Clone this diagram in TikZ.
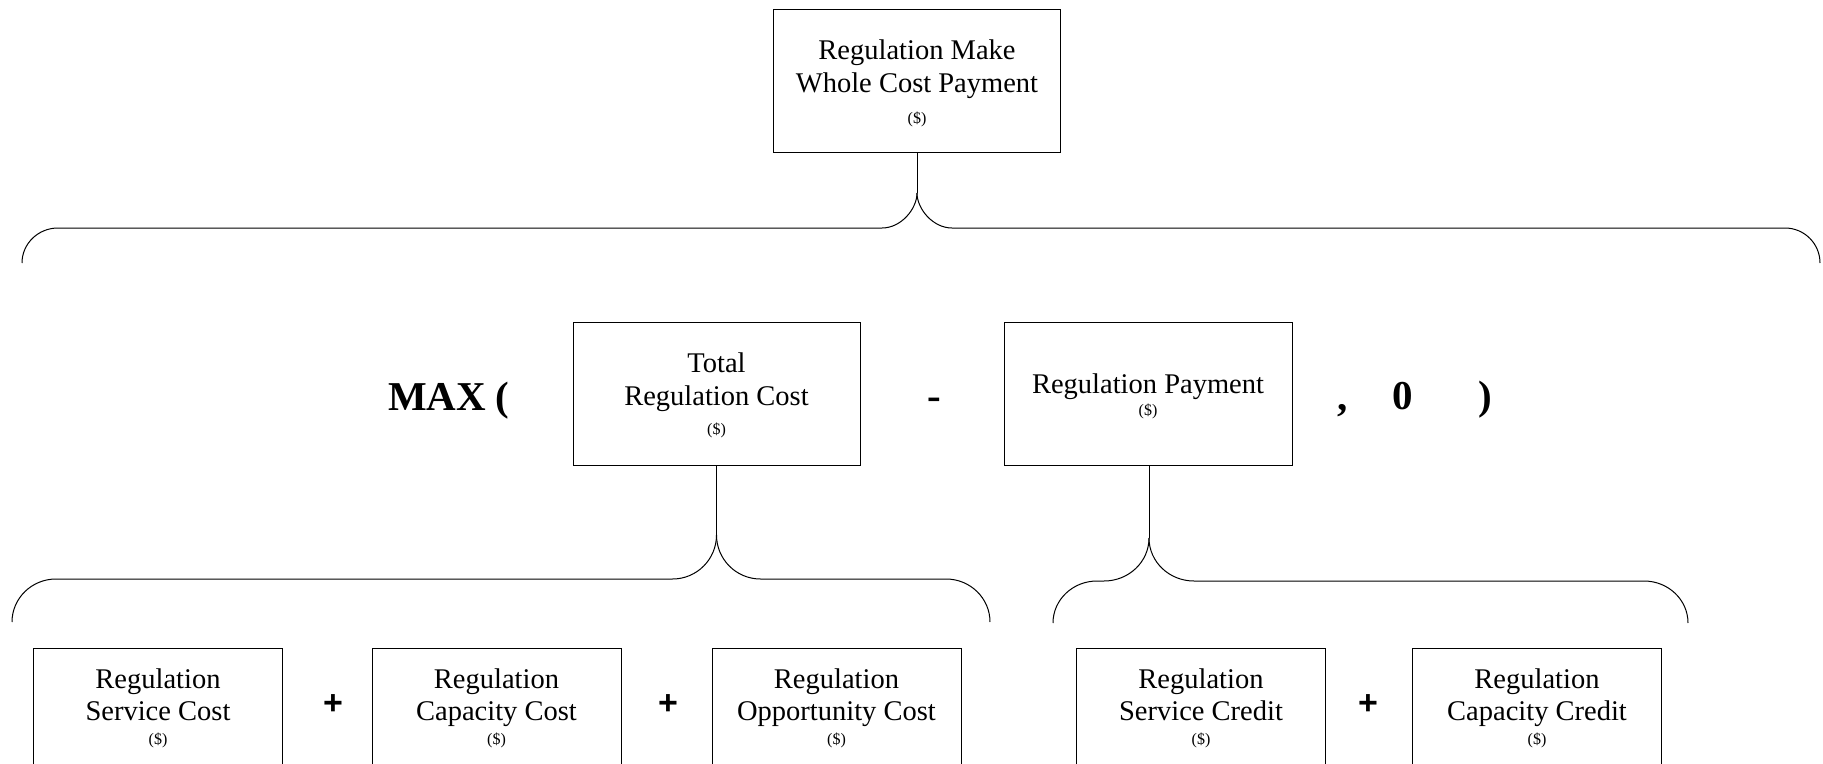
\documentclass[tikz,border=0pt]{standalone}
\usepackage{fontspec}
\setmainfont{Liberation Serif}
\newfontfamily\plusfont{Liberation Sans}
\newcommand{\mainfs}{\fontsize{28.5}{32}\selectfont}
\newcommand{\unitfs}{\fontsize{16}{18}\selectfont}
\newcommand{\opfs}{\fontsize{41}{46}\selectfont\bfseries}
\newcommand{\plusfs}{\fontsize{34}{40}\selectfont\plusfont\bfseries}
\tikzset{
  box/.style={draw, line width=1pt, minimum width=#1, minimum height=143pt, inner sep=0pt},
  txt/.style={inner sep=0pt, anchor=base, font=\mainfs},
  unit/.style={inner sep=0pt, anchor=base, font=\unitfs},
  op/.style={inner sep=0pt, font=\opfs},
  plussign/.style={inner sep=0pt, anchor=center, font=\plusfs},
  ln/.style={line width=1pt, black},
}
\begin{document}
\begin{tikzpicture}[x=1pt, y=-1pt]
\useasboundingbox (0,0) rectangle (1823,763);
\clip (0,0) rectangle (1823,763);
\fill[white] (0,0) rectangle (1823,763);

% top box
\node[box=287pt] (top) at (917,80.5) {};
\node[txt] (topA) at (917,59) {Regulation Make};
\node[txt] (topB) at (917,92) {Whole Cost Payment};
\node[unit] (topU) at (917,123) {(\$)};

% middle boxes
\node[box=287pt] (total) at (716.5,393.5) {};
\node[txt] (totA) at (716.5,372) {Total};
\node[txt] (totB) at (716.5,405) {Regulation Cost};
\node[unit] (totU) at (716.5,434) {(\$)};

\node[box=288pt] (pay) at (1148,393.5) {};
\node[txt] (payA) at (1148,393) {Regulation Payment};
\node[unit] (payU) at (1148,415) {(\$)};

% operators
\node[op, anchor=base west] (max) at (388,410) {MAX\hspace{9pt}(};
\node[op, anchor=base] (minus) at (934,409) {-};
\node[op, anchor=base] (comma) at (1343,410) {,};
\node[op, anchor=base] (zero) at (1403,409) {0};
\node[op, anchor=base] (close) at (1485,409) {)};

% bottom boxes
\node[box=249pt] (b1) at (158,719.5) {};
\node[txt] (b1A) at (158,688) {Regulation};
\node[txt] (b1B) at (158,720) {Service Cost};
\node[unit] (b1U) at (158,744) {(\$)};

\node[box=249pt] (b2) at (496.5,719.5) {};
\node[txt] (b2A) at (496.5,688) {Regulation};
\node[txt] (b2B) at (496.5,720) {Capacity Cost};
\node[unit] (b2U) at (496.5,744) {(\$)};

\node[box=249pt] (b3) at (836.5,719.5) {};
\node[txt] (b3A) at (836.5,688) {Regulation};
\node[txt] (b3B) at (836.5,720) {Opportunity Cost};
\node[unit] (b3U) at (836.5,744) {(\$)};

\node[box=249pt] (b4) at (1201,719.5) {};
\node[txt] (b4A) at (1201,688) {Regulation};
\node[txt] (b4B) at (1201,720) {Service Credit};
\node[unit] (b4U) at (1201,744) {(\$)};

\node[box=249pt] (b5) at (1537,719.5) {};
\node[txt] (b5A) at (1537,688) {Regulation};
\node[txt] (b5B) at (1537,720) {Capacity Credit};
\node[unit] (b5U) at (1537,744) {(\$)};

\node[plussign] (p1) at (333,705) {+};
\node[plussign] (p2) at (668,705) {+};
\node[plussign] (p3) at (1368,705) {+};

% top brace
\coordinate (topTip) at (917,193);
\coordinate (topEndL) at (22,263);
\coordinate (topEndR) at (1820,263);
\draw[ln] (top.south) -- (topTip);
\draw[ln] (topTip) .. controls (917,208.7) and (901.3,228) .. (882,228) -- (58,228)
  .. controls (38.1,228) and (22,243.7) .. (topEndL);
\draw[ln] (topTip) .. controls (917,208.7) and (932.7,228) .. (952,228) -- (1785,228)
  .. controls (1804.3,228) and (1820,243.7) .. (topEndR);

% total brace
\coordinate (totTip) at (716.5,535);
\coordinate (totEndL) at (12,622);
\coordinate (totEndR) at (990,622);
\draw[ln] (total.south) -- (totTip);
\draw[ln] (totTip) .. controls (716.5,559.3) and (696.8,579) .. (672.5,579) -- (56,579)
  .. controls (31.7,579) and (12,598.3) .. (totEndL);
\draw[ln] (totTip) .. controls (716.5,559.3) and (736.2,579) .. (760.5,579) -- (946,579)
  .. controls (970.3,579) and (990,598.3) .. (totEndR);

% payment brace
\coordinate (payTip) at (1149,538);
\coordinate (payEndL) at (1053,623);
\coordinate (payEndR) at (1688,623);
\draw[ln] (payTip |- pay.south) -- (payTip);
\draw[ln] (payTip) .. controls (1149,561.7) and (1128.9,581) .. (1104,581) -- (1097,581)
  .. controls (1072.7,581) and (1053,599.8) .. (payEndL);
\draw[ln] (payTip) .. controls (1149,561.7) and (1169.1,581) .. (1194,581) -- (1644,581)
  .. controls (1668.3,581) and (1688,599.8) .. (payEndR);
\end{tikzpicture}
\end{document}
